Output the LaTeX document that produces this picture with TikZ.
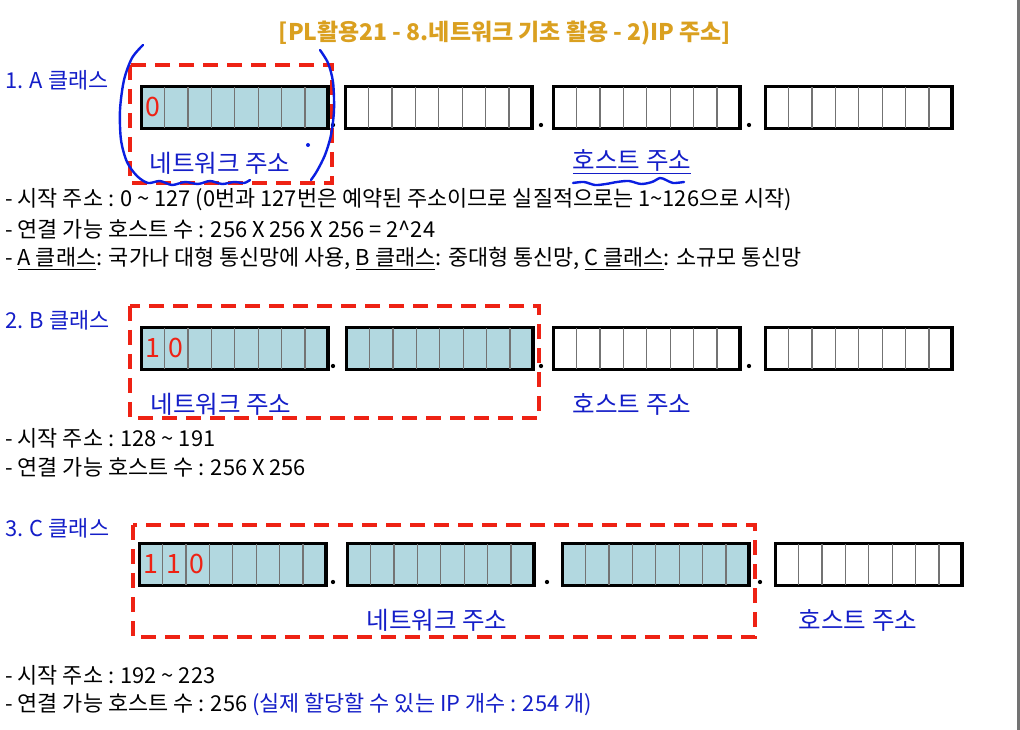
\documentclass[tikz,border=0pt]{standalone}
\usepackage{fontspec}
\setmainfont{Noto Sans CJK KR}
\usetikzlibrary{calc,positioning}

\definecolor{titlegold}{RGB}{218,160,32}
\definecolor{txtblue}{RGB}{20,30,200}
\definecolor{penblue}{RGB}{10,30,225}
\definecolor{dashred}{RGB}{238,34,20}
\definecolor{netfill}{RGB}{178,216,224}
\newcommand\txtsize{\fontsize{16.4}{19}\selectfont}
\newcommand\lblsize{\fontsize{18.4}{21}\selectfont}

\tikzset{
	byte/.style={draw=black, line width=1.7pt, minimum width=139pt, minimum height=30.5pt, inner sep=0pt, anchor=north west},
	netbyte/.style={byte, fill=netfill},
	hostbyte/.style={byte, fill=white},
	cellline/.style={draw=black!55, line width=1pt},
	bit/.style={text=dashred, font=\fontsize{20}{20}\selectfont, inner sep=0pt},
	netframe/.style={draw=dashred, line width=3pt, dash pattern=on 11pt off 7pt},
	body/.style={anchor=west, inner sep=0pt, font=\txtsize},
	heading/.style={body, text=txtblue},
	part/.style={inner sep=0pt, text=txtblue, font=\lblsize},
	pen/.style={draw=penblue, line width=1.8pt, line cap=round, line join=round}
}

\begin{document}
\begin{tikzpicture}[x=0.75pt, y=-0.75pt]
	\useasboundingbox (0,0) rectangle (1020,730);
	\fill[white] (0,0) rectangle (1020,730);
	\fill[black!55] (1017,0) rectangle (1020,730);

	\node[font=\fontsize{17.2}{20}\selectfont\bfseries, text=titlegold] (title) at (505,33) {[PL활용21 - 8.네트워크 기초 활용 - 2)IP 주소]};

	% byte boxes
	\foreach \n/\x/\y/\f in {a1/141/86/netbyte, a2/345/86/hostbyte, a3/553/86/hostbyte, a4/765/86/hostbyte,
			b1/141/327/netbyte, b2/346/327/netbyte, b3/553/327/hostbyte, b4/765/327/hostbyte,
			c1/139/543/netbyte, c2/347/543/netbyte, c3/562/543/netbyte, c4/775/543/hostbyte} {
		\node[\f] (\n) at (\x,\y) {};
		\foreach \i in {1,...,7}
			\draw[cellline] ($(\n.north west)!\i/8!(\n.north east)$) -- ($(\n.south west)!\i/8!(\n.south east)$);
		\draw[line width=1.7pt] (\n.south west) rectangle (\n.north east);
	}

	% dots between bytes
	\foreach \x/\y in {333/125, 541/125, 749/125, 333/366, 541/366, 749/366, 333/582, 547/582, 760/582}
		\fill (\x,\y) circle (1.6pt);

	% leading bits
	\node[bit] (abit1) at ($(a1.west)+(11.6,0)$) {0};
	\foreach \b [count=\k] in {1,0}
		\node[bit] (bbit\k) at ($(b1.west)+(23.2*\k-11.6,0)$) {\b};
	\foreach \b [count=\k] in {1,1,0}
		\node[bit] (cbit\k) at ($(c1.west)+(23.2*\k-11.6,0)$) {\b};

	% class A
	\node[heading] (ahead) at (5,80) {1. A 클래스};
	\draw[netframe] (130,65) rectangle (332,183);
	\node[part] (anet) at (220,163) {네트워크 주소};
	\node[part] (ahost) at (632,162) {\underline{호스트 주소}};
	\node[body] (astart) at (5,200) {- 시작 주소 : 0 \textasciitilde{} 127 (0번과 127번은 예약된 주소이므로 실질적으로는 1\textasciitilde126으로 시작)};
	\node[body] (ahosts) at (5,229) {- 연결 가능 호스트 수 : 256 X 256 X 256 = 2\textasciicircum24};
	\node[body] (ause) at (5,259) {- \underline{A 클래스}: 국가나 대형 통신망에 사용, \underline{B 클래스}: 중대형 통신망, \underline{C 클래스}: 소규모 통신망};

	% pen marks
	\draw[pen] plot[smooth] coordinates {(143,45) (132,58) (124,80) (120,110) (121,140) (127,162) (137,176) (148,183) (160,181) (172,185) (185,182) (198,184) (210,181) (222,184) (234,182) (244,183) (250,180)};
	\draw[pen] plot[smooth] coordinates {(320,50) (328,63) (333,82) (334,110) (331,135) (325,155) (317,171) (311,180)};
	\fill[penblue] (308,145) circle (1.5pt);
	\draw[pen] plot[smooth] coordinates {(573,183) (584,182) (595,185) (606,184) (617,182) (629,181) (641,184) (652,182) (660,178) (666,180) (673,183) (684,182)};

	% class B
	\node[heading] (bhead) at (5,320) {2. B 클래스};
	\draw[netframe] (130,306) rectangle (539,418);
	\node[part] (bnet) at (221,404) {네트워크 주소};
	\node[part] (bhost) at (632,404) {호스트 주소};
	\node[body] (bstart) at (5,438) {- 시작 주소 : 128 \textasciitilde{} 191};
	\node[body] (bhosts) at (5,467) {- 연결 가능 호스트 수 : 256 X 256};

	% class C
	\node[heading] (chead) at (5,528) {3. C 클래스};
	\draw[netframe] (133,525) rectangle (755,637);
	\node[part] (cnet) at (437,620) {네트워크 주소};
	\node[part] (chost) at (858,620) {호스트 주소};
	\node[body] (cstart) at (5,675) {- 시작 주소 : 192 \textasciitilde{} 223};
	\node[body] (chosts) at (5,704) {- 연결 가능 호스트 수 : 256 \textcolor{txtblue}{(실제 할당할 수 있는 IP 개수 : 254 개)}};
\end{tikzpicture}
\end{document}
